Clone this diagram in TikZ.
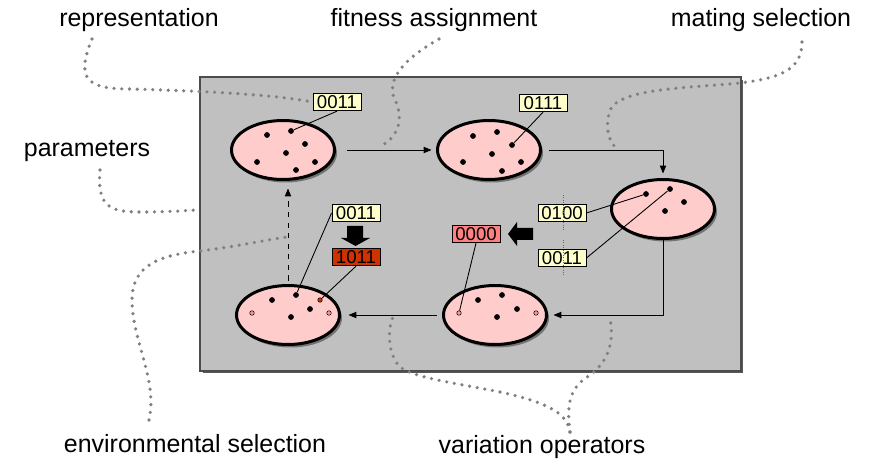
\documentclass[tikz,border=0pt]{standalone}
\usepackage{fontspec}
\setmainfont{Liberation Sans}
\usetikzlibrary{shapes.geometric,arrows.meta,shadows}
\definecolor{popfill}{RGB}{255,204,204}
\definecolor{bitfill}{RGB}{255,255,204}
\definecolor{mutfill}{RGB}{204,51,0}
\definecolor{newfill}{RGB}{255,128,128}
\definecolor{dotpink}{RGB}{255,150,150}
\definecolor{panelgray}{RGB}{192,192,192}
\definecolor{notegray}{RGB}{128,128,128}

\begin{document}
\begin{tikzpicture}[x=0.02cm, y=-0.02cm, >={Triangle[length=4.5pt,width=3.6pt]}, line width=0.5pt,
    pop/.style={ellipse, draw, line width=0.06cm, fill=popfill, inner sep=0, minimum width=2.06cm, minimum height=1.18cm,
        drop shadow={shadow xshift=0.05cm, shadow yshift=-0.06cm, fill=black, opacity=0.4}},
    ind/.style={circle, fill=black, inner sep=0, minimum size=0.115cm},
    pind/.style={circle, draw, line width=0.3pt, fill=dotpink, inner sep=0, minimum size=0.09cm},
    bits/.style={rectangle, draw, fill=bitfill, inner sep=0, minimum width=0.96cm, minimum height=0.35cm, font=\fontsize{10.6}{12}\selectfont},
    note/.style={anchor=base, inner sep=0, font=\fontsize{14.2}{17}\selectfont},
    callout/.style={draw=notegray, line width=0.072cm, line cap=round, dash pattern=on 0pt off 0.155cm}]

    \useasboundingbox (0,0) rectangle (874,462);

    % panel
    \fill[black!65] (203,80) rectangle (743,373);
    \filldraw[fill=panelgray, draw=black!70, line width=0.6pt] (200,77) rectangle (741,371);

    % outside labels
    \node[note] (rep) at (139,27) {representation};
    \node[note] (fit) at (434,27) {fitness assignment};
    \node[note] (mat) at (761,27) {mating selection};
    \node[note] (par) at (87,157) {parameters};
    \node[note] (env) at (195,452) {environmental selection};
    \node[note] (var) at (542,453) {variation operators};

    \coordinate (rep0) at ([shift={(-47,12)}]rep.base);
    \coordinate (fit0) at ([shift={(5,12)}]fit.base);
    \coordinate (mat0) at ([shift={(41,15)}]mat.base);
    \coordinate (par0) at ([shift={(13,13)}]par.base);
    \coordinate (env0) at ([shift={(-46,-32)}]env.base);
    \coordinate (var0) at ([shift={(28,-21)}]var.base);

    \coordinate (fit1) at (378,147);
    \coordinate (mat1) at (615,147);
    \coordinate (par1) at (196,210);
    \coordinate (env1) at (287,237);
    \coordinate (var1) at (393,317);
    \coordinate (var2) at (610,318);

    % populations
    \node[pop] (p1) at (283,150) {};
    \node[pop] (p2) at (489,150) {};
    \node[pop] (p3) at (663,209) {};
    \node[pop] (p4) at (495,315) {};
    \node[pop] (p5) at (288,315) {};

    % individuals
    \node[ind] (d11) at (267,135) {};
    \node[ind] (d12) at (291,131) {};
    \node[ind] (d13) at (305,144) {};
    \node[ind] (d14) at (286,153) {};
    \node[ind] (d15) at (257,162) {};
    \node[ind] (d16) at (315,162) {};
    \node[ind] (d17) at (296,170) {};

    \node[ind] (d21) at (473,136) {};
    \node[ind] (d22) at (497,132) {};
    \node[ind] (d23) at (512,145) {};
    \node[ind] (d24) at (492,154) {};
    \node[ind] (d25) at (463,162) {};
    \node[ind] (d26) at (521,162) {};
    \node[ind] (d27) at (502,171) {};

    \node[ind] (d31) at (646,194) {};
    \node[ind] (d32) at (670,189) {};
    \node[ind] (d33) at (684,202) {};
    \node[ind] (d34) at (665,211) {};

    \node[pind] (d41) at (459,313) {};
    \node[ind] (d42) at (478,300) {};
    \node[ind] (d43) at (502,295) {};
    \node[ind] (d44) at (517,309) {};
    \node[ind] (d45) at (497,317) {};
    \node[pind] (d46) at (536,313) {};

    \node[pind] (d51) at (252,313) {};
    \node[ind] (d52) at (272,300) {};
    \node[ind] (d53) at (296,295) {};
    \node[ind] (d54) at (310,309) {};
    \node[ind] (d55) at (291,317) {};
    \node[pind, fill=mutfill] (d56) at (320,300) {};
    \node[pind] (d57) at (329,313) {};

    % bit strings
    \node[bits] (b1) at (337,102) {0011};
    \node[bits] (b2) at (543,103) {0111};
    \node[bits] (b3) at (562,213) {0100};
    \node[bits] (b4) at (562,258) {0011};
    \node[bits, fill=newfill] (b5) at (476,234) {0000};
    \node[bits] (b6) at (356,213) {0011};
    \node[bits, fill=mutfill] (b7) at (356,257) {1011};

    \draw (b1.south) -- (d12);
    \draw (b2.south) -- (d23);
    \draw (b3.east) -- (d31);
    \draw (b4.east) -- (d32);
    \draw (b5.south) -- (d41);
    \draw (b6.west) -- (d53);
    \draw (b7.south) -- (d56);

    % crossover points
    \draw[black!60, densely dotted, line width=0.4pt] (563,195) -- (563,230) (563,240) -- (563,275);

    % block arrows
    \fill (347,226) -- (363,226) -- (363,238) -- (370,238) -- (355.5,246) -- (341,238) -- (347,238) -- cycle;
    \fill (533,228) -- (517,228) -- (517,222) -- (508,234) -- (517,246) -- (517,240) -- (533,240) -- cycle;

    % loop
    \draw[->, shorten <=0.23cm, shorten >=0.09cm] (p1.east) -- (p2.west);
    \draw[->, shorten <=0.15cm, shorten >=0.09cm] (p2.east) -| (p3.north);
    \draw[->, shorten >=0.11cm] (p3.south) |- (p4.east);
    \draw[->, shorten <=0.11cm, shorten >=0.15cm] (p4.west) -- (p5.east);
    \draw[->, dashed, shorten <=0.07cm, shorten >=0.15cm] (p5.north) -- (p5.north |- p1.south);

    % callouts
    \draw[callout] (rep0) .. controls (75,80) and (88,89) .. (130,89) .. controls (200,91) and (270,94) .. (b1.west);
    \draw[callout] (fit0) .. controls (405,58) and (385,80) .. (395,100) .. controls (405,120) and (397,140) .. (fit1);
    \draw[callout] (mat0) .. controls (802,70) and (780,78) .. (740,83) .. controls (690,88) and (620,88) .. (610,110) .. controls (605,125) and (608,140) .. (mat1);
    \draw[callout] (par0) .. controls (97,205) and (108,212) .. (140,212) .. controls (165,212) and (180,211) .. (par1);
    \draw[callout] (env0) .. controls (158,380) and (132,340) .. (132,300) .. controls (132,265) and (160,255) .. (200,251) .. controls (240,246) and (265,240) .. (env1);
    \draw[callout] (var0) .. controls (567,412) and (545,402) .. (500,392) .. controls (455,383) and (415,378) .. (400,367) .. controls (388,355) and (387,330) .. (var1);
    \draw[callout] (var0) .. controls (565,395) and (575,385) .. (590,375) .. controls (610,360) and (614,340) .. (var2);
\end{tikzpicture}
\end{document}
